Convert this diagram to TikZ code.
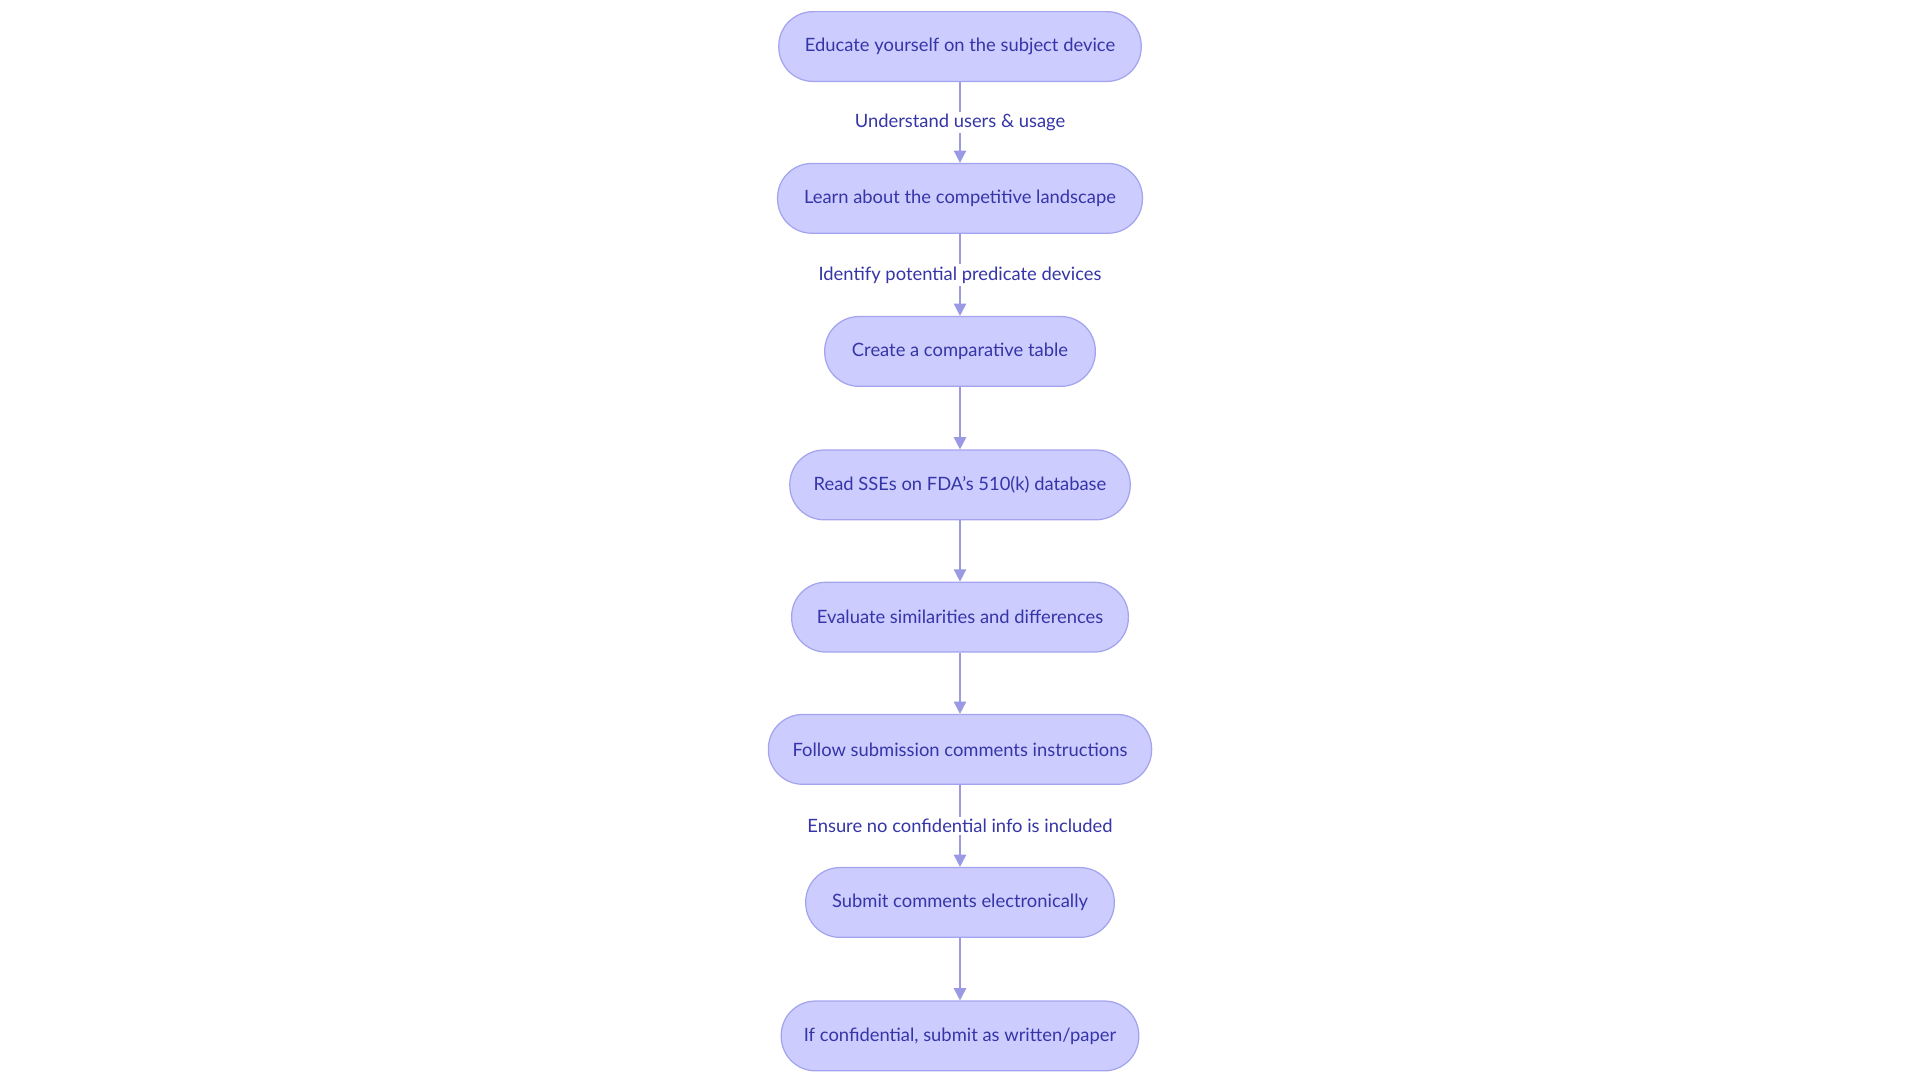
\documentclass[tikz,border=0pt]{standalone}
\usepackage{fontspec}
\setmainfont{Lato}
\usetikzlibrary{arrows.meta}
\definecolor{nfill}{HTML}{CCCCFF}
\definecolor{nline}{HTML}{A3A3EE}
\definecolor{ntext}{HTML}{3535A8}
\definecolor{aline}{HTML}{9A9AE4}
\tikzset{
  stepbox/.style={draw=nline, fill=nfill, line width=1pt, rounded corners=28pt, minimum height=57pt, text=ntext, font=\fontsize{15}{17}\selectfont, inner sep=0pt, yshift=-1pt},
  conn/.style={draw=aline, line width=1.5pt, -{Triangle[length=10pt,width=10pt]}},
  elabel/.style={fill=white, text=ntext, font=\fontsize{15}{17}\selectfont, inner sep=2pt}
}
\begin{document}
\begin{tikzpicture}[x=1pt,y=-1pt]
\useasboundingbox (0,0) rectangle (1568,882);
\node[stepbox, minimum width=296pt] (n1) at (784,37) {Educate yourself on the subject device};
\node[stepbox, minimum width=298pt] (n2) at (784,161) {Learn about the competitive landscape};
\node[stepbox, minimum width=221pt] (n3) at (784,286) {Create a comparative table};
\node[stepbox, minimum width=278pt] (n4) at (784,395) {Read SSEs on FDA's 510(k) database};
\node[stepbox, minimum width=275pt] (n5) at (784,503) {Evaluate similarities and differences};
\node[stepbox, minimum width=313pt] (n6) at (784,611) {Follow submission comments instructions};
\node[stepbox, minimum width=252pt] (n7) at (784,736) {Submit comments electronically};
\node[stepbox, minimum width=292pt] (n8) at (784,845) {If confidential, submit as written/paper};
\draw[conn] (n1) -- node[elabel]{Understand users \& usage} (n2);
\draw[conn] (n2) -- node[elabel]{Identify potential predicate devices} (n3);
\draw[conn] (n3) -- (n4);
\draw[conn] (n4) -- (n5);
\draw[conn] (n5) -- (n6);
\draw[conn] (n6) -- node[elabel]{Ensure no confidential info is included} (n7);
\draw[conn] (n7) -- (n8);
\end{tikzpicture}
\end{document}
